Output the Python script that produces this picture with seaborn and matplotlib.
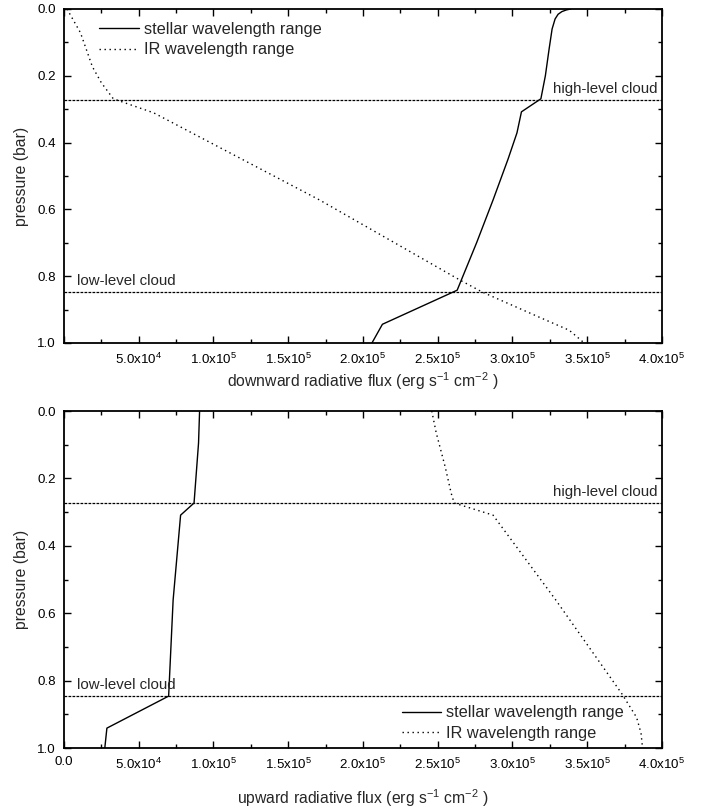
import numpy as np
import pandas as pd
import matplotlib
matplotlib.use("Agg")
import matplotlib.pyplot as plt
import seaborn as sns
from matplotlib.ticker import MultipleLocator, FuncFormatter

# Downward flux profiles (pressure in bar, flux in erg s^-1 cm^-2)
down_stellar_p = [0.0, 0.003, 0.008, 0.016, 0.03, 0.06, 0.12, 0.2, 0.269, 0.308, 0.371,
                  0.45, 0.572, 0.7, 0.842, 0.944, 1.0]
down_stellar_f = [3.39e5, 3.36e5, 3.33e5, 3.305e5, 3.285e5, 3.265e5, 3.245e5, 3.22e5, 3.19e5,
                  3.06e5, 3.03e5, 2.97e5, 2.87e5, 2.76e5, 2.63e5, 2.13e5, 2.06e5]
down_ir_p = [0.0, 0.071, 0.173, 0.221, 0.269, 0.311, 0.572, 0.812, 0.848, 0.923, 0.962, 1.0]
down_ir_f = [2.0e3, 1.1e4, 1.9e4, 2.5e4, 3.3e4, 6.0e4, 1.71e5, 2.65e5, 2.80e5, 3.18e5, 3.38e5, 3.48e5]

# Upward flux profiles
up_stellar_p = [0.0, 0.095, 0.273, 0.309, 0.561, 0.846, 0.941, 1.0]
up_stellar_f = [9.07e4, 9.0e4, 8.7e4, 7.8e4, 7.3e4, 7.0e4, 2.87e4, 2.73e4]
up_ir_p = [0.0, 0.065, 0.166, 0.244, 0.273, 0.309, 0.561, 0.838, 0.909, 0.956, 1.0]
up_ir_f = [2.46e5, 2.49e5, 2.55e5, 2.59e5, 2.61e5, 2.87e5, 3.29e5, 3.73e5, 3.83e5, 3.86e5, 3.87e5]

# Cloud deck pressures
high_cloud_p = 0.273
low_cloud_p = 0.846

sns.set_theme(style="ticks")
plt.rcParams['font.family'] = ['Liberation Sans', 'DejaVu Sans']
plt.rcParams['mathtext.fontset'] = 'custom'
plt.rcParams['mathtext.rm'] = 'Liberation Sans'
plt.rcParams['mathtext.it'] = 'Liberation Sans'

fig = plt.figure(figsize=(7.04, 8.07), dpi=100)
ax_top = fig.add_axes([0.0909, 0.575, 0.8494, 0.4139])
ax_bot = fig.add_axes([0.0909, 0.0731, 0.8494, 0.4176])

ir_style = (0, (1, 2.6))
cloud_style = (0, (2.2, 1.0))


def sci_fmt(v, pos):
    if abs(v) < 1e-9:
        return "0.0"
    exp = int(np.floor(np.log10(abs(v))))
    mant = v / 10 ** exp
    return r"%.1fx10$^{%d}$" % (mant, exp)


def draw_panel(ax, sp, sf, ip, iff, xlabel, legend_loc, show_zero, xpad):
    df_s = pd.DataFrame({"flux": sf, "p": sp})
    df_i = pd.DataFrame({"flux": iff, "p": ip})
    sns.lineplot(data=df_s, x="flux", y="p", sort=False, estimator=None,
                 color="black", lw=1.0, ax=ax, label="stellar wavelength range")
    sns.lineplot(data=df_i, x="flux", y="p", sort=False, estimator=None,
                 color="black", lw=1.0, linestyle=ir_style, ax=ax,
                 label="IR wavelength range")
    ax.axhline(high_cloud_p, color="black", lw=0.9, linestyle=cloud_style)
    ax.axhline(low_cloud_p, color="black", lw=0.9, linestyle=cloud_style)

    ax.set_xlim(0, 4.0e5)
    ax.set_ylim(1.0, 0.0)
    ax.xaxis.set_major_locator(MultipleLocator(5e4))
    ax.xaxis.set_minor_locator(MultipleLocator(2.5e4))
    ax.yaxis.set_major_locator(MultipleLocator(0.2))
    ax.yaxis.set_minor_locator(MultipleLocator(0.1))

    def fmt(v, pos):
        if abs(v) < 1e-9 and not show_zero:
            return ""
        return sci_fmt(v, pos)

    ax.xaxis.set_major_formatter(FuncFormatter(fmt))
    ax.yaxis.set_major_formatter(FuncFormatter(lambda v, p: "%.1f" % v))
    ax.tick_params(which="both", direction="in", top=True, right=True,
                   labelsize=9.6, colors="black", width=1.0, pad=6)
    ax.tick_params(which="major", length=5)
    ax.tick_params(which="minor", length=3)
    for s in ax.spines.values():
        s.set_linewidth(1.3)
        s.set_color("black")
    ax.set_xlabel(xlabel, fontsize=11.3, labelpad=xpad)
    ax.set_ylabel("pressure (bar)", fontsize=11.3, labelpad=6)

    ax.text(0.993, high_cloud_p - 0.012, "high-level cloud", transform=ax.get_yaxis_transform(),
            ha="right", va="bottom", fontsize=10.8)
    ax.text(0.022, low_cloud_p - 0.012, "low-level cloud", transform=ax.get_yaxis_transform(),
            ha="left", va="bottom", fontsize=10.8)

    leg = ax.legend(loc=legend_loc, frameon=False, fontsize=11.8, handlelength=2.4,
                    handletextpad=0.3, labelspacing=0.32,
                    borderaxespad=0.3)
    return leg


draw_panel(ax_top, down_stellar_p, down_stellar_f, down_ir_p, down_ir_f,
           r"downward radiative flux (erg s$^{-1}$ cm$^{-2}$ )", "upper left", False, 3)
ax_top.get_legend().set_bbox_to_anchor((0.04, 0.995))
ax_top.get_legend()._loc = 2

draw_panel(ax_bot, up_stellar_p, up_stellar_f, up_ir_p, up_ir_f,
           r"upward radiative flux (erg s$^{-1}$ cm$^{-2}$ )", "lower right", True, 11)
ax_bot.get_legend().set_bbox_to_anchor((0.955, -0.012))
ax_bot.get_legend()._loc = 4

fig.savefig("out.png", dpi=100)
